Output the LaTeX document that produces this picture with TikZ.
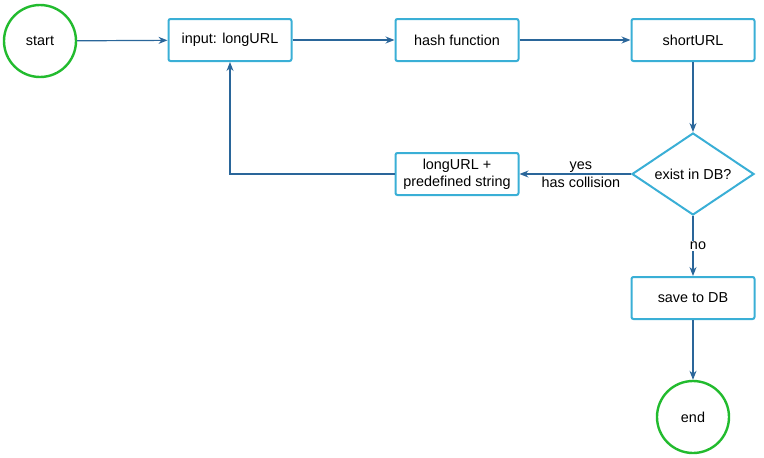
\documentclass[tikz,border=0pt]{standalone}
\usepackage{fontspec}
\setmainfont{Liberation Sans}
\usetikzlibrary{shapes.geometric,arrows.meta}
\definecolor{boxc}{HTML}{3AAFD6}
\definecolor{arrc}{HTML}{2A669A}
\definecolor{grn}{HTML}{22BB2E}
\begin{document}
\begin{tikzpicture}[x=1pt,y=-1pt,
  font=\fontsize{14.4}{17}\selectfont,
  stepbox/.style={draw=boxc,line width=2pt,rounded corners=2pt,minimum width=123pt,minimum height=42pt,align=center,inner sep=2pt},
  term/.style={circle,draw=grn,line width=2.4pt,minimum size=72pt,inner sep=0pt},
  decide/.style={diamond,draw=boxc,line width=2pt,minimum width=122pt,minimum height=82pt,inner sep=0pt,aspect=1.5},
  conn/.style={draw=arrc,line width=1.2pt,-{Stealth[length=9pt,width=7pt]}},
  lbl/.style={}
]
\useasboundingbox (0,0) rectangle (764,458);
\node[term] (start) at (40,41) {start};
\node[stepbox] (input) at (230,40) {input: longURL};
\node[stepbox] (hash) at (457,40) {hash function};
\node[stepbox] (short) at (693,40) {shortURL};
\node[decide] (exist) at (693,174) {exist in DB?};
\node[stepbox] (pre) at (457,174) {longURL +\\predefined string};
\node[stepbox] (save) at (693,298) {save to DB};
\node[term] (end) at (693,417) {end};

\draw[conn] (start) -- (input);
\draw[conn] (input) -- (hash);
\draw[conn] (hash) -- (short);
\draw[conn] (short) -- (exist);
\draw[conn] (exist) -- node[above,lbl,pos=0.45,yshift=-2pt] {yes} node[below,lbl,pos=0.45,yshift=1pt] {has collision} (pre);
\draw[conn] (pre.west) -| (input.south);
\draw[conn] (exist) -- node[fill=white,lbl,inner sep=1pt,xshift=5pt] {no} (save);
\draw[conn] (save) -- (end);
\end{tikzpicture}
\end{document}
